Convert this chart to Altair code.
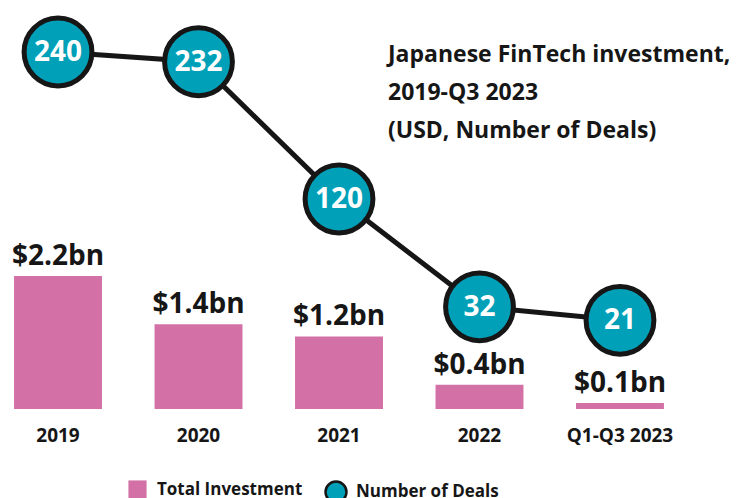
import altair as alt
import pandas as pd

years = ["2019", "2020", "2021", "2022", "Q1-Q3 2023"]
investment = [2.2, 1.4, 1.2, 0.4, 0.1]
investment_labels = ["$2.2bn", "$1.4bn", "$1.2bn", "$0.4bn", "$0.1bn"]
deals = [240, 232, 120, 32, 21]
deal_labels = ["240", "232", "120", "32", "21"]

PINK = "#D371A6"
TEAL = "#00A0B8"
DARK = "#161616"
FONT = "Open Sans"

df = pd.DataFrame({
    "year": years,
    "investment": investment,
    "inv_label": investment_labels,
    "deals": deals,
    "deal_label": deal_labels,
    "inv_series": ["Total Investment"] * len(years),
    "deal_series": ["Number of Deals"] * len(years),
})

x = alt.X("year:N", sort=years,
          scale=alt.Scale(paddingInner=0.374, paddingOuter=0.043),
          axis=alt.Axis(title=None, ticks=False, domain=False, labelAngle=0,
                        labelFont=FONT, labelFontSize=19, labelFontWeight="bold",
                        labelColor=DARK, labelPadding=17, grid=False))

y_inv = alt.Y("investment:Q", scale=alt.Scale(domain=[0, 6.628], nice=False, zero=False), axis=None)
y_deal = alt.Y("deals:Q", scale=alt.Scale(domain=[-51.4, 275.9], nice=False, zero=False), axis=None)

base = alt.Chart(df)

bars = base.mark_bar().encode(
    x=x,
    y=y_inv,
    color=alt.Color("inv_series:N",
                    scale=alt.Scale(domain=["Total Investment"], range=[PINK]),
                    legend=alt.Legend(title=None, orient="none", legendX=120, legendY=472,
                                      symbolType="square", symbolSize=330, symbolStrokeWidth=0,
                                      labelFont=FONT, labelFontSize=17, labelFontWeight="bold",
                                      labelColor=DARK, labelOffset=10, padding=0)),
)

bar_text = base.mark_text(font=FONT, fontSize=28, fontWeight="bold", color=DARK,
                          baseline="alphabetic", dy=-11).encode(
    x=x, y=y_inv, text="inv_label:N")

line = base.mark_line(color=DARK, strokeWidth=5).encode(x=x, y=y_deal)

circles = base.mark_circle(size=4600, opacity=1, stroke=DARK, strokeWidth=5).encode(
    x=x,
    y=y_deal,
    fill=alt.Fill("deal_series:N",
                  scale=alt.Scale(domain=["Number of Deals"], range=[TEAL]),
                  legend=alt.Legend(title=None, orient="none", legendX=316, legendY=472,
                                    symbolType="circle", symbolSize=440,
                                    symbolStrokeColor=DARK, symbolStrokeWidth=2.5,
                                    labelFont=FONT, labelFontSize=17, labelFontWeight="bold",
                                    labelColor=DARK, labelOffset=8, padding=0)),
)

circle_text = base.mark_text(font=FONT, fontSize=28, fontWeight="bold", color="white",
                             baseline="middle", dy=1).encode(
    x=x, y=y_deal, text="deal_label:N")

chart = alt.layer(bars, bar_text, line, circles, circle_text).resolve_scale(
    y="independent"
).properties(
    width=662,
    height=401,
    autosize=alt.AutoSizeParams(type="none"),
    padding={"left": 0, "top": 0, "right": 59, "bottom": 89},
    title=alt.TitleParams(
        text=["Japanese FinTech investment,", "2019-Q3 2023", "(USD, Number of Deals)"],
        anchor="start", frame="group", orient="top", offset=0,
        dx=380, dy=135, baseline="top", lineHeight=38,
        font=FONT, fontSize=23, fontWeight="bold", color=DARK,
    ),
).configure_view(stroke=None)

chart.save("out.html", embed_options={"renderer": "svg", "actions": False})
